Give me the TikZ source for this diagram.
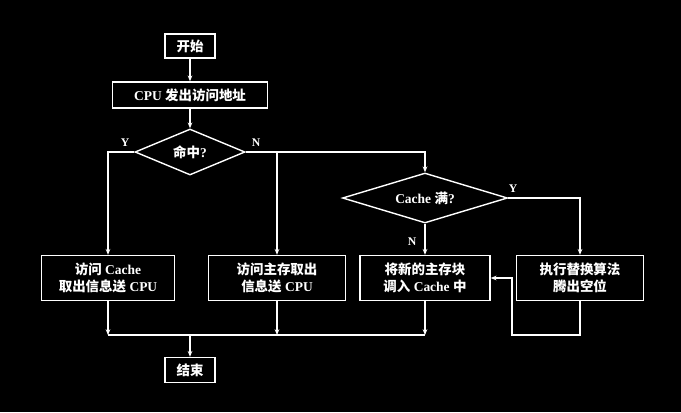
\documentclass[tikz,border=0pt]{standalone}
\usepackage{fontspec}
\setmainfont{Liberation Serif}
\newfontfamily\cjk{Noto Sans CJK SC}
\newcommand{\zh}[1]{{\cjk #1}}
\usetikzlibrary{shapes.geometric,arrows.meta}
\begin{document}
\begin{tikzpicture}[x=0.03cm,y=-0.03cm,
  every node/.style={text=white,font=\bfseries\fontsize{11.5}{14}\selectfont},
  box/.style={draw=white,line width=1.2pt,align=center,inner sep=0pt},
  dia/.style={draw=white,line width=1.2pt,diamond,aspect=2.4,inner sep=0pt},
  ln/.style={draw=white,line width=1.1pt},
  ar/.style={ln,-{Stealth[length=5pt,width=4pt]}},
  lbl/.style={font=\bfseries\normalsize}]
\fill[black] (0,0) rectangle (681,412);
\node[box,minimum width=1.5cm,minimum height=0.72cm] (start) at (190,46) {\zh{开始}};
\node[box,minimum width=4.65cm,minimum height=0.78cm] (cpu) at (190,95) {CPU \zh{发出访问地址}};
\node[dia,minimum width=3.3cm,minimum height=1.38cm] (hit) at (190,152) {\zh{命中}?};
\node[dia,minimum width=4.95cm,minimum height=1.5cm] (full) at (425,198) {Cache \zh{满}?};
\node[box,minimum width=4.0cm,minimum height=1.35cm] (b1) at (108,278) {\zh{访问} Cache\\\zh{取出信息送} CPU};
\node[box,minimum width=4.1cm,minimum height=1.35cm] (b2) at (277,278) {\zh{访问主存取出}\\\zh{信息送} CPU};
\node[box,minimum width=3.9cm,minimum height=1.35cm] (b3) at (425,278) {\zh{将新的主存块}\\\zh{调入} Cache \zh{中}};
\node[box,minimum width=3.8cm,minimum height=1.35cm] (b4) at (580,278) {\zh{执行替换算法}\\\zh{腾出空位}};
\node[box,minimum width=1.5cm,minimum height=0.75cm] (end) at (190,370) {\zh{结束}};
\coordinate (j) at (190,335);
\coordinate (l) at (512,335);
\draw[ar] (start) -- (cpu);
\draw[ar] (cpu) -- (hit);
\draw[ar] (hit.west) -| (b1.north);
\draw[ar] (hit.east) -| (full.north);
\draw[ar] (277,152) -- (b2.north);
\draw[ar] (full.east) -| (b4.north);
\draw[ar] (full.south) -- (b3.north);
\draw[ar] (b1.south) -- (108,335);
\draw[ar] (b2.south) -- (277,335);
\draw[ar] (b3.south) -- (425,335);
\draw[ln] (108,335) -- (425,335);
\draw[ar] (j) -- (end);
\draw[ar] (b4.south) |- (l) |- (b3.east);
\node[lbl] at (125,143) {Y};
\node[lbl] at (256,143) {N};
\node[lbl] at (513,189) {Y};
\node[lbl] at (412,242) {N};
\end{tikzpicture}
\end{document}
